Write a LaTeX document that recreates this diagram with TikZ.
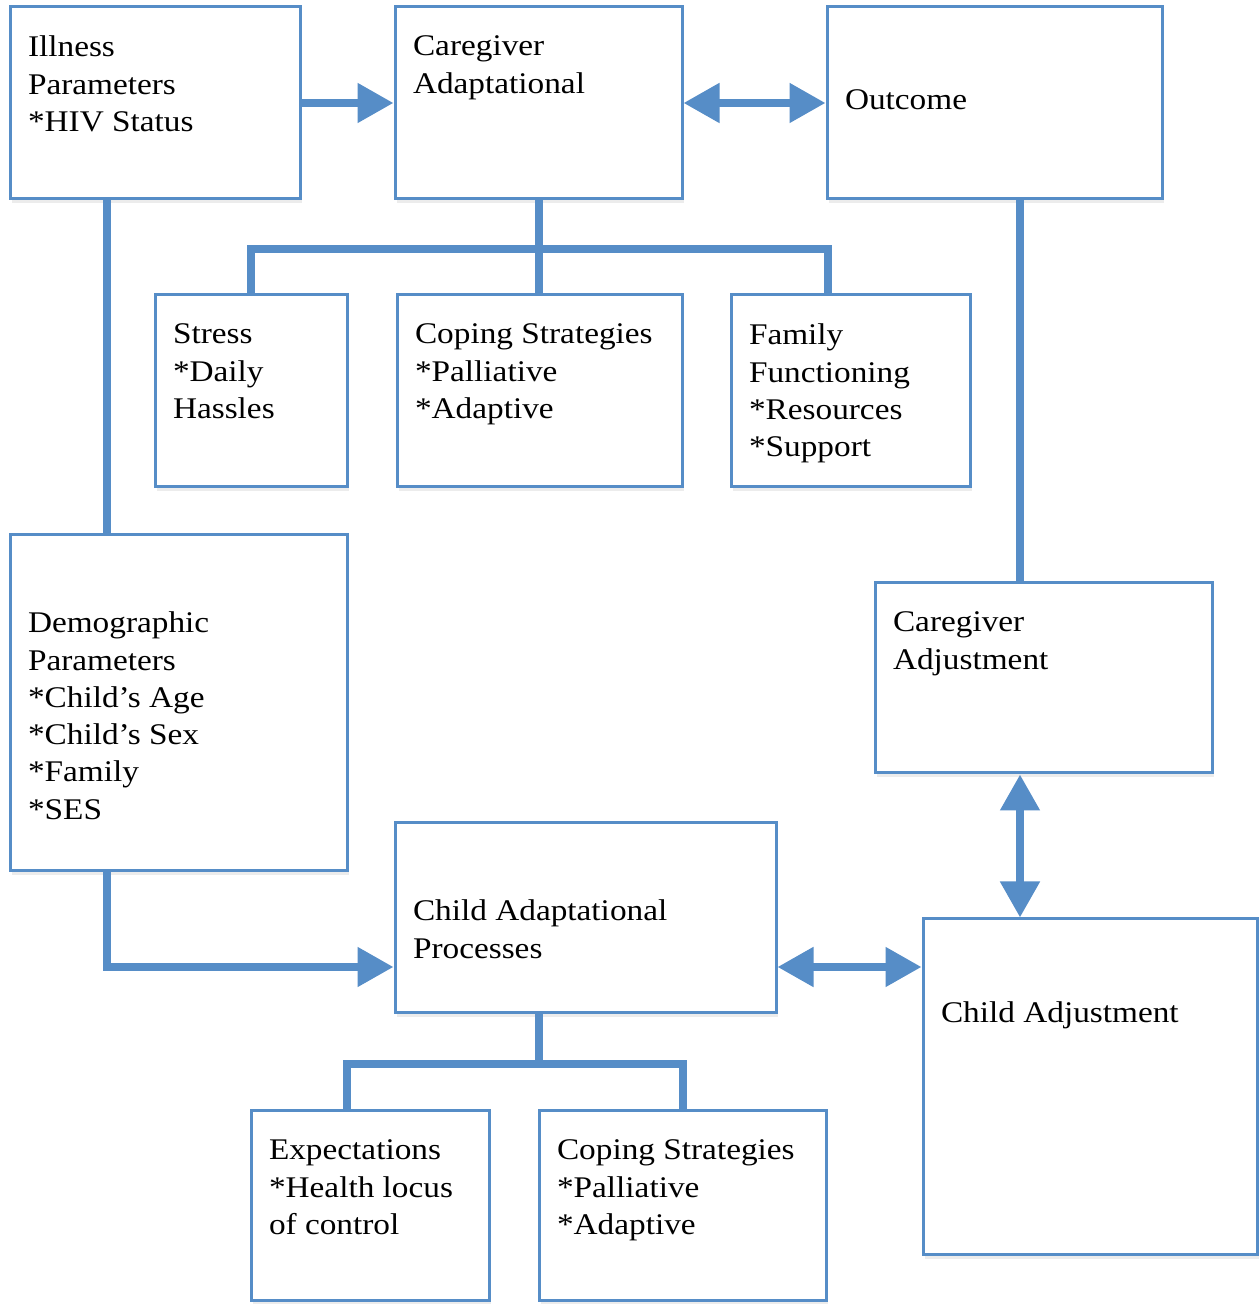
\documentclass[tikz,border=0pt]{standalone}
\usepackage{fontspec}
\setmainfont[FakeStretch=1.11]{Liberation Serif}
\usetikzlibrary{arrows.meta,shadows}

\begin{document}
\begin{tikzpicture}[x=1pt,y=1pt,
  box/.style={draw=boxColor,line width=3pt,fill=white,inner sep=0pt,
    drop shadow={shadow xshift=2pt,shadow yshift=-4pt,opacity=0.15}},
  txt/.style={anchor=north west,align=left,inner sep=0pt,outer sep=0pt,
    font=\fontsize{30}{37.3}\selectfont,execute at begin node=\strut},
  link/.style={draw=boxColor,line width=8pt},
  onearrow/.style={-{Triangle[width=38pt,length=36pt]}},
  twoarrow/.style={{Triangle[width=38pt,length=36pt]}-{Triangle[width=38pt,length=36pt]}}]
\definecolor{boxColor}{RGB}{86,141,199}
\path[use as bounding box,fill=white] (0,0) rectangle (1259,1304);

% boxes
\node[box,minimum width=290,minimum height=192] (ill) at ( 155.00,1201.00) {};
\node[box,minimum width=287,minimum height=192] (cga) at ( 538.50,1201.00) {};
\node[box,minimum width=335,minimum height=192] (out) at ( 994.50,1201.00) {};
\node[box,minimum width=192,minimum height=192] (str) at ( 251.00, 913.00) {};
\node[box,minimum width=285,minimum height=192] (cop) at ( 539.50, 913.00) {};
\node[box,minimum width=239,minimum height=192] (fam) at ( 850.50, 913.00) {};
\node[box,minimum width=337,minimum height=336] (dem) at ( 178.50, 601.00) {};
\node[box,minimum width=337,minimum height=190] (cad) at (1043.50, 626.00) {};
\node[box,minimum width=381,minimum height=190] (chp) at ( 585.50, 386.00) {};
\node[box,minimum width=334,minimum height=336] (chd) at (1090.00, 217.00) {};
\node[box,minimum width=238,minimum height=190] (exp) at ( 370.00,  98.00) {};
\node[box,minimum width=287,minimum height=190] (cpb) at ( 682.50,  98.00) {};

% texts
\node[txt] (illT) at ([shift={(19.5,-30.4)}]ill.north west) {Illness\\Parameters\\*HIV Status};
\node[txt] (cgaT) at ([shift={(19.5,-30.4)}]cga.north west) {Caregiver\\Adaptational};
\node[txt] (outT) at ([shift={(19.5,-78.4)}]out.north west) {Outcome};
\node[txt] (strT) at ([shift={(19.5,-30.4)}]str.north west) {Stress\\*Daily\\Hassles};
\node[txt] (copT) at ([shift={(19.5,-30.4)}]cop.north west) {Coping Strategies\\*Palliative\\*Adaptive};
\node[txt] (famT) at ([shift={(19.5,-30.4)}]fam.north west) {Family\\Functioning\\*Resources\\*Support};
\node[txt] (demT) at ([shift={(19.5,-78.4)}]dem.north west) {Demographic\\Parameters\\*Child’s Age\\*Child’s Sex\\*Family\\*SES};
\node[txt] (cadT) at ([shift={(19.5,-30.4)}]cad.north west) {Caregiver\\Adjustment};
\node[txt] (chpT) at ([shift={(19.5,-78.4)}]chp.north west) {Child Adaptational\\Processes};
\node[txt] (chdT) at ([shift={(19.5,-78.4)}]chd.north west) {Child Adjustment};
\node[txt] (expT) at ([shift={(19.5,-30.4)}]exp.north west) {Expectations\\*Health locus\\of control};
\node[txt] (cpbT) at ([shift={(19.5,-30.4)}]cpb.north west) {Coping Strategies\\*Palliative\\*Adaptive};

% connectors
\draw[link,onearrow] (ill.east) -- (cga.west);
\draw[link,twoarrow] (cga.east) -- (out.west);
\draw[link] (cga.south) -- ++(0,-49) coordinate (cgaBar);
\draw[link] (str.north) |- (cgaBar) -| ([xshift=-23]fam.north);
\draw[link] (cgaBar) -- (cgaBar |- cop.north);
\draw[link] ([xshift=-48]ill.south) -- ([xshift=-48]ill.south |- dem.north);
\draw[link] ([xshift=25.5]out.south) -- ([xshift=25.5]out.south |- cad.north);
\draw[link,twoarrow] ([xshift=-23.5]cad.south) -- ([xshift=-23.5]cad.south |- chd.north);
\draw[link,onearrow] ([xshift=-71.5]dem.south) |- ([yshift=-49]chp.west);
\draw[link,twoarrow] ([yshift=-49]chp.east) -- ([yshift=-49]chp.east -| chd.west);
\draw[link] ([xshift=-46.5]chp.south) -- ++(0,-50) coordinate (chpBar);
\draw[link] ([xshift=-23]exp.north) |- (chpBar) -| (cpb.north);
\end{tikzpicture}
\end{document}
